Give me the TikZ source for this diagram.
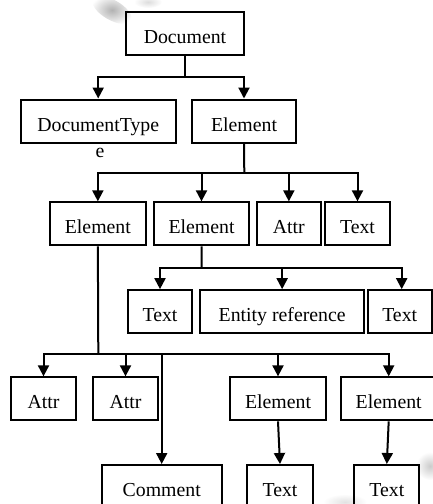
\documentclass[tikz,border=0pt]{standalone}
\usepackage{fontspec}
\setmainfont{Liberation Serif}
\usetikzlibrary{arrows.meta}
\begin{document}
\begin{tikzpicture}[x=1pt,y=-1pt,
  box/.style={draw, line width=2pt, rectangle, inner sep=0pt,
    font=\fontsize{19.8}{22}\selectfont, minimum height=43pt,
    text height=21pt, text depth=1pt},
  link/.style={line width=2pt, -{Triangle[width=11pt,length=11pt]}},
  wire/.style={line width=2pt}]
\useasboundingbox (0,0) rectangle (433,504);

% faint smudges
\shade[inner color=black!55, outer color=white, opacity=0.55, rotate around={-30:(112,10)}] (112,10) ellipse (22pt and 10pt);
\shade[inner color=black!30, outer color=white, opacity=0.45] (148,2) ellipse (14pt and 6pt);
\shade[inner color=black!40, outer color=white, opacity=0.5] (430,466) ellipse (14pt and 14pt);
\shade[inner color=black!25, outer color=white, opacity=0.45] (345,502) ellipse (22pt and 8pt);

% level 0
\node[box, minimum width=118.6pt] (doc) at (185,33.7) {Document};
% level 1
\node[box, minimum width=155pt] (dtype) at (98.2,121) {DocumentType};
\node[box, minimum width=103.4pt] (el0) at (244,121) {Element};
\node[font=\fontsize{19.8}{22}\selectfont] (lbl) at (100,153) {e};
% level 2
\node[box, minimum width=95.7pt] (el1) at (97.85,223.85) {Element};
\node[box, minimum width=95pt] (el2) at (201.5,223.85) {Element};
\node[box, minimum width=64.3pt] (attr0) at (288.85,223.85) {Attr};
\node[box, minimum width=65pt] (txt0) at (357.5,223.85) {Text};
% level 3
\node[box, minimum width=64.6pt] (txt1) at (160,311.65) {Text};
\node[box, minimum width=164.3pt] (ent) at (282.15,311.65) {Entity reference};
\node[box, minimum width=64pt] (txt2) at (399.7,311.65) {Text};
% level 4
\node[box, minimum width=65pt] (attr1) at (43.5,398.85) {Attr};
\node[box, minimum width=65.6pt] (attr2) at (125.5,398.85) {Attr};
\node[box, minimum width=96pt] (el3) at (278,398.85) {Element};
\node[box, minimum width=96pt] (el4) at (388.7,398.85) {Element};
% level 5
\node[box, minimum width=120pt] (com) at (161.7,486.5) {Comment};
\node[box, minimum width=65.4pt] (txt3) at (280,486.5) {Text};
\node[box, minimum width=65pt] (txt4) at (386.8,486.5) {Text};

% junction points
\coordinate (j0) at (185,77.3);
\coordinate (j1) at (244.3,172.7);
\coordinate (j2) at (201.7,267.7);
\coordinate (j3) at (98.3,354.3);

% Document
\draw[wire] (doc.south) -- (j0);
\draw[link] (j0) -| (dtype.north);
\draw[link] (j0) -| (el0.north);
% Element (level 1)
\draw[wire] (el0.south) -- (j1);
\draw[link] (j1) -| (el1.north);
\draw[link] (j1) -| (el2.north);
\draw[link] (j1) -| (attr0.north);
\draw[link] (j1) -| (txt0.north);
% Element (level 2, middle)
\draw[wire] (el2.south) -- (j2);
\draw[link] (j2) -| (txt1.north);
\draw[link] (j2) -| (ent.north);
\draw[link] (j2) -| ([xshift=2pt]txt2.north);
% Element (level 2, left)
\draw[wire] (el1.south) -- (j3);
\draw[link] (j3) -| (attr1.north);
\draw[link] (j3) -| (attr2.north);
\draw[link] (j3) -| (com.north);
\draw[link] (j3) -| (el3.north);
\draw[link] (j3) -| (el4.north);
% leaf elements
\draw[link] (el3.south) -- (txt3.north);
\draw[link] (el4.south) -- (txt4.north);
\end{tikzpicture}
\end{document}
